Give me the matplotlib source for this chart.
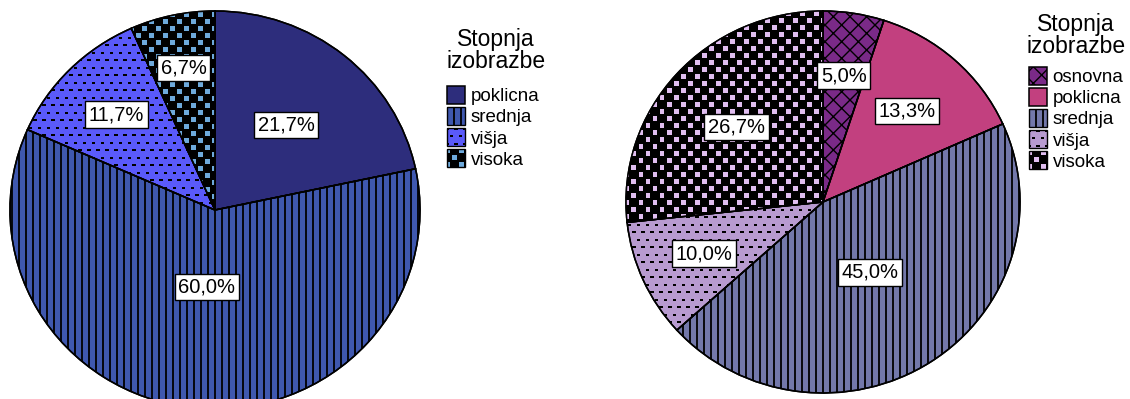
import numpy as np
import matplotlib.pyplot as plt
from matplotlib.patches import Rectangle, Wedge
from matplotlib.collections import PatchCollection, LineCollection
from matplotlib.legend_handler import HandlerBase

plt.rcParams['font.family'] = ['Liberation Sans', 'DejaVu Sans']

W, H = 1130, 399
DPI = 100

# left chart
left_labels = ['poklicna', 'srednja', 'višja', 'visoka']
left_pct = [21.7, 60.0, 11.7, 6.7]
left_faces = ['#2D2D7C', '#3F58AF', '#5A5AFA', '#000000']
left_texture = [None, 'vlines', 'dots', 'checker']
left_mark = ['black', 'black', 'black', '#6EAADC']
left_label_r = [0.55, 0.39, 0.68, 0.73]

# right chart
right_labels = ['osnovna', 'poklicna', 'srednja', 'višja', 'visoka']
right_pct = [5.0, 13.3, 45.0, 10.0, 26.7]
right_faces = ['#7A2A88', '#C2407F', '#7378AA', '#B89BD0', '#000000']
right_texture = ['xx', None, 'vlines', 'dots', 'checker']
right_mark = ['black', 'black', 'black', 'black', '#E0BEF0']
right_label_r = [0.67, 0.64, 0.44, 0.66, 0.59]

legend_title = 'Stopnja\nizobrazbe'


def make_texture(kind, color, bounds, sx, sy):
    """Pattern marks over bounds; sizes are given in pixels, sx/sy = px per unit."""
    x0, y0, x1, y1 = bounds
    if kind == 'vlines':
        step = 7.0 / sx
        xs = np.arange(np.floor(x0 / step) * step, x1 + step, step)
        segs = [[(x, y0), (x, y1)] for x in xs]
        return LineCollection(segs, colors=color, linewidths=1.3)
    if kind == 'dots':
        cw, ch, mw, mh = 9.0, 7.5, 3.6, 2.0
    else:  # checker
        cw, ch, mw, mh = 14.0, 7.0, 5.0, 5.0
    cw, ch, mw, mh = cw / sx, ch / sy, mw / sx, mh / sy
    rects = []
    for j in range(int(np.floor(y0 / ch)) - 1, int(np.ceil(y1 / ch)) + 2):
        off = (j % 2) * cw / 2
        for i in range(int(np.floor((x0 - off) / cw)) - 1, int(np.ceil((x1 - off) / cw)) + 2):
            rects.append(Rectangle((i * cw + off - mw / 2, j * ch - mh / 2), mw, mh))
    return PatchCollection(rects, facecolor=color, edgecolor='none', linewidth=0)


class TextureHandler(HandlerBase):
    def __init__(self, face, kind, color):
        super().__init__()
        self.face, self.kind, self.color = face, kind, color

    def create_artists(self, legend, orig_handle, xdescent, ydescent,
                       width, height, fontsize, trans):
        x0, y0 = -xdescent, -ydescent
        box = Rectangle((x0, y0), width, height, facecolor=self.face,
                        edgecolor='none', transform=trans)
        s = DPI / 72.0
        tex = make_texture(self.kind, self.color, (x0, y0, x0 + width, y0 + height), s, s)
        tex.set_transform(trans)
        tex.set_clip_path(box)
        edge = Rectangle((x0, y0), width, height, fill=False,
                         edgecolor='black', linewidth=1.0, transform=trans)
        return [box, tex, edge]


def draw_pie(cx, cy, rx, ry, pct, faces, textures, marks, label_r, labels,
             title_xy, legend_xy):
    L = 1.02
    ax = fig.add_axes([(cx - rx * L) / W, 1 - (cy + ry * L) / H,
                       2 * rx * L / W, 2 * ry * L / H])
    wedges, _ = ax.pie(pct, colors=faces, startangle=90, counterclock=False,
                       wedgeprops=dict(edgecolor='black', linewidth=1.1))
    ax.set_xlim(-L, L)
    ax.set_ylim(-L, L)
    ax.set_aspect('auto')
    ax.axis('off')

    handler_map = {}
    for w, kind, mc, fr, p in zip(wedges, textures, marks, label_r, pct):
        if kind == 'xx':
            w.set_hatch('xx')
        elif kind is not None:
            ext = w.get_path().get_extents()
            tex = make_texture(kind, mc, (ext.x0, ext.y0, ext.x1, ext.y1), rx, ry)
            tex.set_zorder(2)
            ax.add_collection(tex)
            tex.set_clip_path(w)
            handler_map[w] = TextureHandler(w.get_facecolor(), kind, mc)
        ax.add_patch(Wedge((0, 0), 1, w.theta1, w.theta2, fill=False,
                           edgecolor='black', linewidth=1.1, zorder=3))
        mid = np.deg2rad((w.theta1 + w.theta2) / 2)
        ax.text(fr * np.cos(mid), fr * np.sin(mid), f'{p:.1f}%'.replace('.', ','),
                ha='center', va='center', fontsize=14.5, zorder=5,
                bbox=dict(boxstyle='square,pad=0.18', facecolor='white',
                          edgecolor='black', linewidth=1.0))

    fig.text(title_xy[0] / W, 1 - title_xy[1] / H, legend_title, ha='center',
             va='top', fontsize=16.5, linespacing=0.92)
    fig.legend(wedges, labels, loc='upper left',
               bbox_to_anchor=(legend_xy[0] / W, 1 - legend_xy[1] / H),
               bbox_transform=fig.transFigure, frameon=False, fontsize=13.5,
               borderpad=0, borderaxespad=0, handlelength=0.96, handleheight=1.1,
               handletextpad=0.3, labelspacing=0.09, handler_map=handler_map)


fig = plt.figure(figsize=(W / DPI, H / DPI), dpi=DPI)

draw_pie(215, 210, 205, 199, left_pct, left_faces, left_texture, left_mark,
         left_label_r, left_labels, (496, 28), (447, 86))
draw_pie(823, 202, 197, 191, right_pct, right_faces, right_texture, right_mark,
         right_label_r, right_labels, (1076, 13), (1029, 67))

fig.savefig('out.png', dpi=DPI)
